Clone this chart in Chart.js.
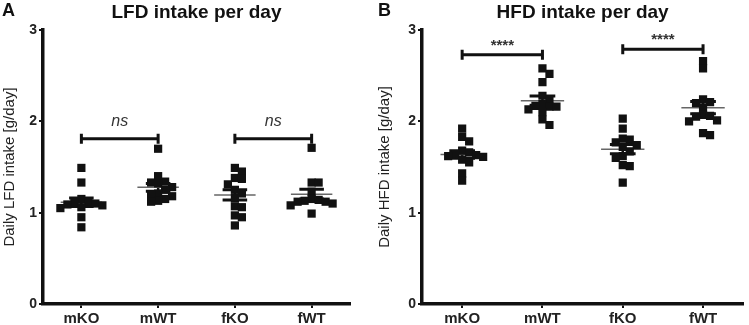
<!DOCTYPE html>
<html><head><meta charset="utf-8">
<script src="https://cdn.jsdelivr.net/npm/chart.js@4/dist/chart.umd.min.js"></script>
<style>
body{margin:0;background:#fff;width:749px;height:325px;overflow:hidden;position:relative;font-family:"Liberation Sans",Arial,sans-serif}
.panel{position:absolute;top:0;height:325px}
.lbl{position:absolute;top:0;font:bold 18px "Liberation Sans",Arial,sans-serif;color:#111;line-height:20px}
</style></head><body>
<div class="panel" style="left:0;width:375px"><canvas id="cA" width="375" height="325"></canvas></div>
<div class="panel" style="left:375px;width:374px"><canvas id="cB" width="374" height="325"></canvas></div>
<div class="lbl" style="left:2px">A</div>
<div class="lbl" style="left:378px">B</div>
<script>
// ---- DATA ----
const categories = ['mKO','mWT','fKO','fWT'];
const yTicks = [0,1,2,3];
// Panel A: LFD intake per day (g/day)
const lfd_mKO = [1.49,1.33,1.15,1.12,1.11,1.10,1.09,1.08,1.06,1.05,0.95,0.84];
const lfd_mWT = [1.70,1.40,1.34,1.33,1.32,1.28,1.25,1.21,1.20,1.18,1.15,1.13,1.12];
const lfd_fKO = [1.49,1.45,1.38,1.37,1.31,1.25,1.21,1.16,1.07,1.06,0.97,0.95,0.86];
const lfd_fWT = [1.71,1.33,1.33,1.23,1.15,1.14,1.13,1.12,1.12,1.10,1.08,0.99];
// Panel B: HFD intake per day (g/day)
const hfd_mKO = [1.92,1.83,1.78,1.68,1.66,1.64,1.63,1.62,1.61,1.58,1.55,1.43,1.35];
const hfd_mWT = [2.58,2.52,2.43,2.28,2.24,2.19,2.17,2.16,2.16,2.13,2.10,2.02,1.96];
const hfd_fKO = [2.03,1.92,1.81,1.80,1.77,1.74,1.72,1.67,1.62,1.60,1.52,1.51,1.33];
const hfd_fWT = [2.66,2.58,2.24,2.21,2.20,2.15,2.07,2.06,2.05,2.01,2.00,1.87,1.85];
// significance brackets: [fromGroup, toGroup, yValue, label]
const sigA = [[0,1,1.81,'ns'],[2,3,1.81,'ns']];
const sigB = [[0,1,2.73,'****'],[2,3,2.79,'****']];

const FONT = '"Liberation Sans", Arial, sans-serif';

function swarm(vals, pxX, pxY, s){
  const order = vals.map((v,i)=>i).sort((a,b)=>vals[b]-vals[a]);
  const placed=[]; const off=new Array(vals.length).fill(0);
  for(const i of order){
    const y=vals[i]*pxY;
    for(let k=0;k<400;k++){
      const dx=Math.ceil(k/2)*(k%2?1:-1);
      let ok=true;
      for(const p of placed){ if(Math.abs(dx-p.x)<s && Math.abs(y-p.y)<s){ok=false;break;} }
      if(ok){placed.push({x:dx,y});off[i]=dx/pxX;break;}
    }
  }
  return off;
}

function meanSem(v){
  const n=v.length, m=v.reduce((a,b)=>a+b,0)/n;
  const sd=Math.sqrt(v.reduce((a,b)=>a+(b-m)*(b-m),0)/(n-1));
  return {m, sem: sd/Math.sqrt(n)};
}

const statsPlugin = {
  id:'stats',
  beforeDatasetsDraw(chart){
    const {ctx, scales:{x,y}} = chart;
    const groups = chart.options.plugins.stats.groups;
    ctx.save();
    groups.forEach((g,i)=>{
      const {m,sem}=meanSem(g);
      const cx=x.getPixelForValue(i+1);
      const unit=x.getPixelForValue(1)-x.getPixelForValue(0);
      const wM = 0.27*unit, wS = 0.16*unit;
      const ym=y.getPixelForValue(m), yu=y.getPixelForValue(m+sem), yl=y.getPixelForValue(m-sem);
      ctx.strokeStyle='#111'; ctx.lineWidth=2.5;
      ctx.beginPath(); ctx.moveTo(cx,yu); ctx.lineTo(cx,yl); ctx.stroke();
      ctx.lineWidth=3;
      ctx.beginPath(); ctx.moveTo(cx-wS,yu); ctx.lineTo(cx+wS,yu); ctx.moveTo(cx-wS,yl); ctx.lineTo(cx+wS,yl); ctx.stroke();
      ctx.strokeStyle='#666'; ctx.lineWidth=1.5;
      ctx.beginPath(); ctx.moveTo(cx-wM,ym); ctx.lineTo(cx+wM,ym); ctx.stroke();
    });
    ctx.restore();
  },
  afterDatasetsDraw(chart){
    const {ctx, scales:{x,y}, chartArea} = chart;
    const o = chart.options.plugins.stats;
    ctx.save();
    o.sig.forEach(([a,b,v,lab])=>{
      const x1=x.getPixelForValue(a+1), x2=x.getPixelForValue(b+1), yy=y.getPixelForValue(v);
      ctx.strokeStyle='#111'; ctx.lineWidth=3;
      ctx.beginPath(); ctx.moveTo(x1,yy); ctx.lineTo(x2,yy);
      ctx.moveTo(x1,yy-5); ctx.lineTo(x1,yy+5); ctx.moveTo(x2,yy-5); ctx.lineTo(x2,yy+5); ctx.stroke();
      ctx.fillStyle='#333'; ctx.textAlign='center'; ctx.textBaseline='middle';
      if(lab==='ns'){ ctx.font='italic 16px '+FONT; ctx.fillText(lab,(x1+x2)/2,yy-17); }
      else { ctx.font='bold 15px '+FONT; ctx.fillText(lab,(x1+x2)/2,yy-9); }
    });
    ctx.fillStyle='#111'; ctx.font='bold 19px '+FONT; ctx.textAlign='center'; ctx.textBaseline='middle';
    ctx.fillText(o.title,(chartArea.left+chartArea.right)/2,13);
    ctx.restore();
  }
};

function makeChart(id, groups, sig, title, yTitle, yAxisW, padRight){
  const datasets = groups.map((g,i)=>({
    data: g.map(v=>({x:i+1,y:v})),
    pointStyle:'rect', pointRadius:5.8, pointHoverRadius:5.8,
    backgroundColor:'#111', borderWidth:0
  }));
  const chart = new Chart(document.getElementById(id), {
    type:'scatter',
    data:{datasets},
    options:{
      responsive:false, animation:false,
      layout:{padding:{top:30,right:padRight,left:0,bottom:0}},
      plugins:{legend:{display:false},tooltip:{enabled:false},stats:{groups,sig,title}},
      scales:{
        x:{type:'linear',min:0.5,max:4.5,
          afterBuildTicks:s=>{s.ticks=categories.map((c,i)=>({value:i+1}));},
          afterFit:s=>{s.height=21;},
          ticks:{callback:v=>categories[v-1]||'',font:{family:FONT,size:15,weight:'bold'},color:'#222',padding:2,maxRotation:0,autoSkip:false},
          grid:{display:true,drawOnChartArea:false,drawTicks:true,tickLength:4,color:'#111',lineWidth:2},
          border:{display:true,color:'#111',width:3.5}
        },
        y:{min:0,max:3,
          afterBuildTicks:s=>{s.ticks=yTicks.map(v=>({value:v}));},
          afterFit:s=>{s.width=yAxisW;},
          ticks:{font:{family:FONT,size:14,weight:'bold'},color:'#222',padding:2},
          grid:{display:true,drawOnChartArea:false,drawTicks:true,tickLength:4,color:'#111',lineWidth:2},
          border:{display:true,color:'#111',width:3.5},
          title:{display:true,text:yTitle,font:{family:FONT,size:15},color:'#222',padding:{top:1,bottom:0}}
        }
      }
    },
    plugins:[statsPlugin]
  });
  const x=chart.scales.x, y=chart.scales.y;
  const pxX=x.getPixelForValue(1)-x.getPixelForValue(0);
  const pxY=y.getPixelForValue(0)-y.getPixelForValue(1);
  groups.forEach((g,i)=>{
    const off=swarm(g,pxX,pxY,6.8);
    chart.data.datasets[i].data=g.map((v,j)=>({x:i+1+off[j],y:v}));
  });
  chart.update('none');
  return chart;
}

makeChart('cA',[lfd_mKO,lfd_mWT,lfd_fKO,lfd_fWT],sigA,'LFD intake per day','Daily LFD intake [g/day]',43,25);
makeChart('cB',[hfd_mKO,hfd_mWT,hfd_fKO,hfd_fWT],sigB,'HFD intake per day','Daily HFD intake [g/day]',47,4);
</script>
</body></html>
